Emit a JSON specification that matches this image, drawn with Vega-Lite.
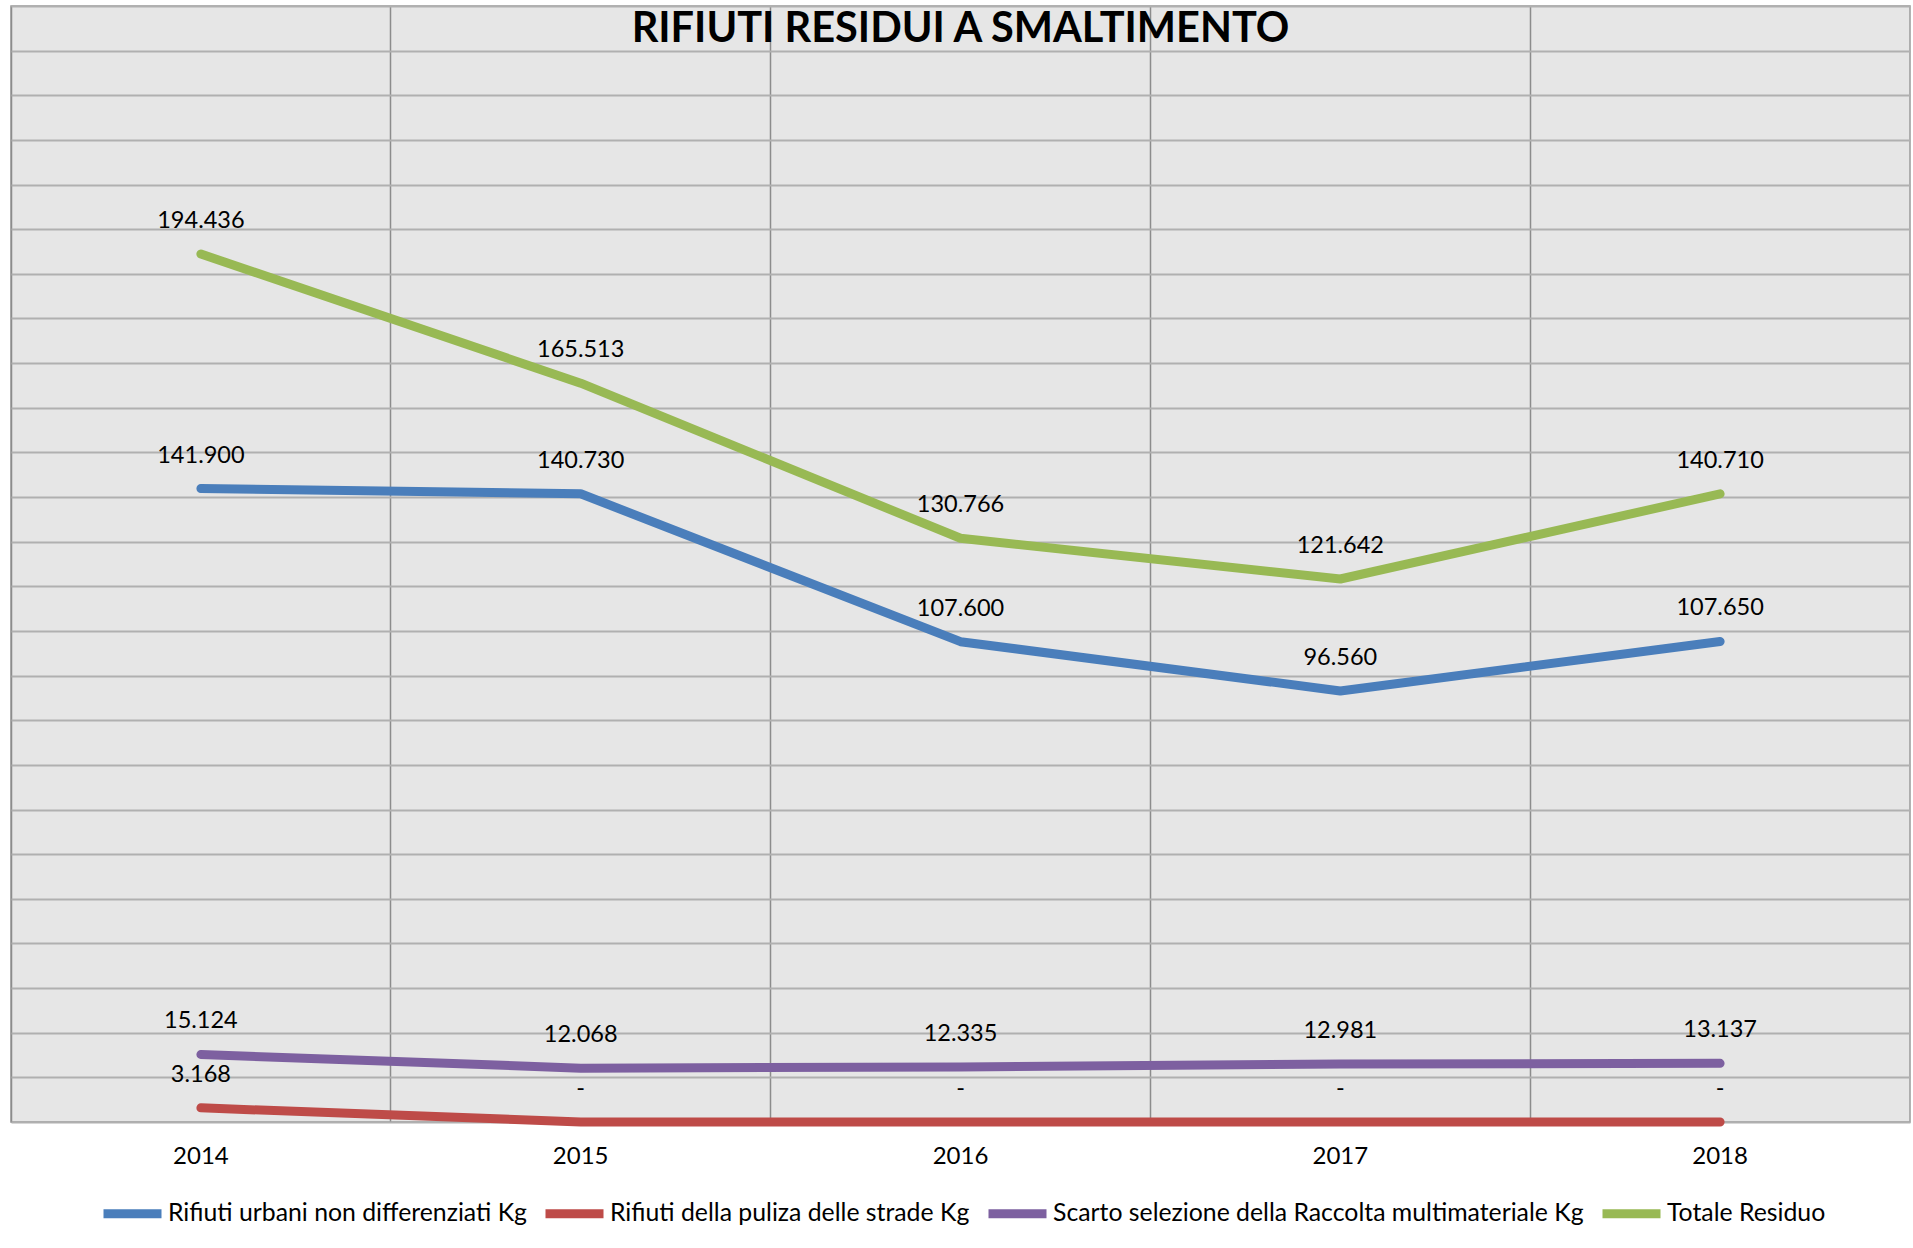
{
  "$schema": "https://vega.github.io/schema/vega-lite/v6.json",
  "width": 1899,
  "height": 1116,
  "autosize": {"type": "none"},
  "padding": {"left": 11, "top": 6, "right": 3, "bottom": 126},
  "background": "white",
  "config": {
    "locale": {"number": {"decimal": ",", "thousands": ".", "grouping": [3], "currency": ["€", ""]}},
    "view": {"fill": "#E6E6E6", "stroke": "#9A9A9A", "strokeWidth": 1.5},
    "font": "Lato"
  },
  "datasets": {
    "rifiuti": [
      {"year": "2014", "series": "Rifiuti urbani non differenziati Kg", "value": 141900},
      {"year": "2015", "series": "Rifiuti urbani non differenziati Kg", "value": 140730},
      {"year": "2016", "series": "Rifiuti urbani non differenziati Kg", "value": 107600},
      {"year": "2017", "series": "Rifiuti urbani non differenziati Kg", "value": 96560},
      {"year": "2018", "series": "Rifiuti urbani non differenziati Kg", "value": 107650},
      {"year": "2014", "series": "Rifiuti della puliza delle strade Kg", "value": 3168},
      {"year": "2015", "series": "Rifiuti della puliza delle strade Kg", "value": 0},
      {"year": "2016", "series": "Rifiuti della puliza delle strade Kg", "value": 0},
      {"year": "2017", "series": "Rifiuti della puliza delle strade Kg", "value": 0},
      {"year": "2018", "series": "Rifiuti della puliza delle strade Kg", "value": 0},
      {"year": "2014", "series": "Scarto selezione della Raccolta multimateriale Kg", "value": 15124},
      {"year": "2015", "series": "Scarto selezione della Raccolta multimateriale Kg", "value": 12068},
      {"year": "2016", "series": "Scarto selezione della Raccolta multimateriale Kg", "value": 12335},
      {"year": "2017", "series": "Scarto selezione della Raccolta multimateriale Kg", "value": 12981},
      {"year": "2018", "series": "Scarto selezione della Raccolta multimateriale Kg", "value": 13137},
      {"year": "2014", "series": "Totale Residuo", "value": 194436},
      {"year": "2015", "series": "Totale Residuo", "value": 165513},
      {"year": "2016", "series": "Totale Residuo", "value": 130766},
      {"year": "2017", "series": "Totale Residuo", "value": 121642},
      {"year": "2018", "series": "Totale Residuo", "value": 140710}
    ],
    "titolo": [{"heading": "RIFIUTI RESIDUI A SMALTIMENTO"}]
  },
  "layer": [
    {
      "data": {"name": "rifiuti"},
      "encoding": {
        "x": {
          "field": "year",
          "type": "ordinal",
          "scale": {"type": "band", "paddingInner": 0, "paddingOuter": 0},
          "axis": {
            "title": null,
            "bandPosition": 0,
            "labelAngle": 0,
            "labelAlign": "center",
            "labelFont": "Lato",
            "labelFontSize": 24,
            "labelColor": "#000000",
            "labelPadding": 22,
            "labelFlush": false,
            "labelOverlap": false,
            "labelBound": false,
            "ticks": false,
            "domain": false,
            "grid": true,
            "gridColor": "#8C8C8C",
            "gridWidth": 1.5
          }
        },
        "y": {
          "field": "value",
          "type": "quantitative",
          "scale": {"domain": [0, 250000], "nice": false},
          "axis": {
            "title": null,
            "labels": false,
            "ticks": false,
            "domain": false,
            "grid": true,
            "gridColor": "#B0B0B0",
            "gridWidth": 2,
            "values": [0, 10000, 20000, 30000, 40000, 50000, 60000, 70000, 80000, 90000, 100000, 110000, 120000, 130000, 140000, 150000, 160000, 170000, 180000, 190000, 200000, 210000, 220000, 230000, 240000, 250000]
          }
        }
      },
      "layer": [
        {
          "mark": {"type": "line", "strokeWidth": 9, "strokeCap": "round", "strokeJoin": "round"},
          "encoding": {
            "color": {
              "field": "series",
              "type": "nominal",
              "scale": {
                "domain": ["Rifiuti urbani non differenziati Kg", "Rifiuti della puliza delle strade Kg", "Scarto selezione della Raccolta multimateriale Kg", "Totale Residuo"],
                "range": ["#4A7EBB", "#BE4B48", "#7D60A0", "#98B954"]
              },
              "legend": {
                "title": null,
                "orient": "none",
                "direction": "horizontal",
                "legendX": 88,
                "legendY": 1174,
                "symbolType": "stroke",
                "symbolSize": 3364,
                "symbolStrokeWidth": 9,
                "labelFont": "Lato",
                "labelFontSize": 24.8,
                "labelColor": "#000000",
                "labelLimit": 800,
                "labelOffset": 2,
                "columnPadding": 0
              }
            }
          }
        },
        {
          "mark": {"type": "text", "dy": -33, "fontSize": 23.5, "font": "Lato", "color": "#000000"},
          "encoding": {
            "text": {
              "condition": {"test": "datum.value === 0", "value": "-"},
              "field": "value",
              "type": "quantitative",
              "format": ",.0f"
            }
          }
        }
      ]
    },
    {
      "data": {"name": "titolo"},
      "mark": {"type": "text", "font": "Lato", "fontWeight": "bold", "fontSize": 41.5, "color": "#000000", "align": "center", "baseline": "alphabetic"},
      "encoding": {
        "x": {"datum": "2016", "type": "ordinal"},
        "y": {"datum": 242000, "type": "quantitative"},
        "text": {"field": "heading", "type": "nominal"}
      }
    }
  ]
}
